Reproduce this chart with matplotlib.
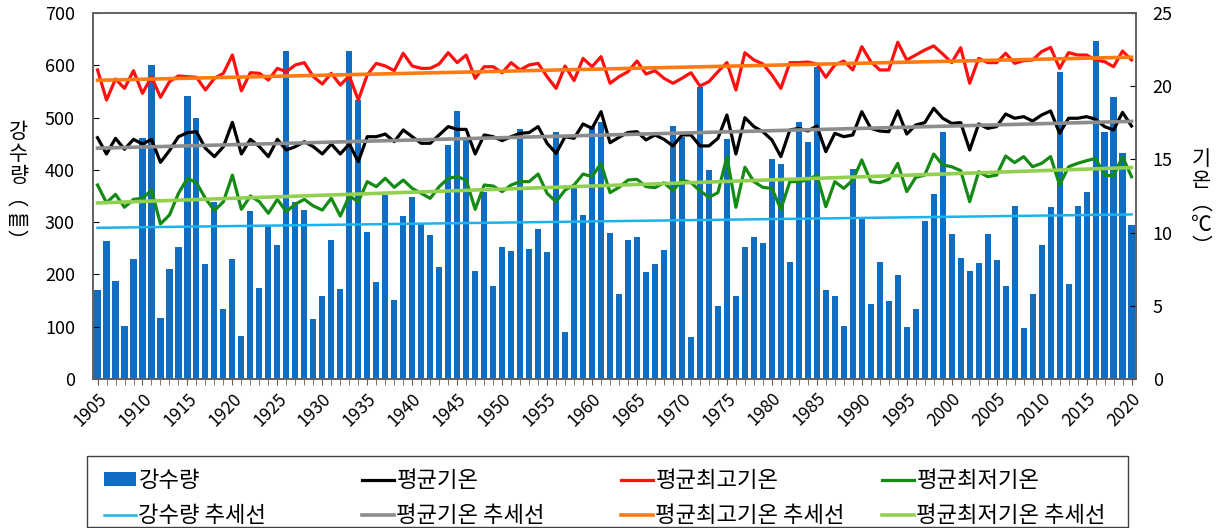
import numpy as np
import matplotlib
matplotlib.use("Agg")
import matplotlib.pyplot as plt
from matplotlib.patches import Rectangle

plt.rcParams['font.family'] = ['Noto Sans CJK KR', 'DejaVu Sans']

years = np.arange(1905, 2021)

# 강수량 (mm)
rain = [170, 264, 187, 101, 229, 461, 600, 117, 211, 252,
        542, 500, 219, 339, 134, 229, 83, 321, 174, 295,
        257, 627, 339, 323, 115, 158, 266, 172, 627, 534,
        281, 186, 351, 152, 312, 349, 296, 275, 215, 447,
        513, 460, 207, 358, 178, 252, 245, 478, 248, 287,
        243, 473, 89, 365, 313, 483, 492, 280, 163, 265,
        272, 205, 219, 246, 484, 463, 80, 559, 400, 140,
        459, 159, 252, 272, 260, 421, 412, 224, 491, 454,
        597, 170, 159, 101, 402, 309, 143, 223, 150, 198,
        99, 134, 303, 353, 472, 277, 232, 207, 221, 277,
        228, 178, 330, 97, 163, 257, 328, 587, 182, 331,
        358, 647, 472, 539, 432, 294]

# 평균기온 (℃)
t_mean = [16.48, 15.37, 16.44, 15.69, 16.37, 16.05, 16.37, 14.80, 15.60, 16.55,
          16.83, 16.89, 15.76, 15.19, 15.87, 17.53, 15.37, 16.37, 15.87, 15.19,
          16.37, 15.64, 15.87, 16.21, 15.87, 15.37, 16.05, 15.37, 16.05, 14.85,
          16.55, 16.55, 16.73, 16.21, 17.01, 16.55, 16.10, 16.10, 16.67, 17.24,
          17.05, 17.05, 15.37, 16.67, 16.55, 16.28, 16.55, 16.78, 16.83, 17.24,
          16.10, 15.41, 16.55, 16.44, 17.42, 17.12, 18.26, 16.14, 16.51, 16.84,
          16.89, 16.33, 16.67, 16.37, 15.92, 16.67, 16.67, 15.92, 15.92, 16.44,
          18.03, 15.37, 17.85, 17.24, 16.89, 16.33, 15.19, 17.01, 17.12, 16.94,
          17.28, 15.53, 16.78, 16.55, 16.67, 18.26, 17.12, 16.94, 16.89, 18.31,
          16.73, 17.35, 17.51, 18.49, 17.81, 17.46, 17.51, 15.64, 17.42, 17.12,
          17.24, 18.10, 17.81, 17.92, 17.62, 18.03, 18.31, 16.78, 17.81, 17.81,
          17.92, 17.74, 17.24, 17.01, 18.21, 17.28]

# 평균최고기온 (℃)
t_max = [21.11, 19.06, 20.49, 19.85, 21.06, 19.51, 20.65, 19.24, 20.31, 20.70,
         20.65, 20.61, 19.74, 20.54, 20.88, 22.13, 19.69, 20.92, 20.88, 20.42,
         21.22, 20.99, 21.45, 21.61, 20.65, 20.15, 20.88, 20.08, 20.70, 19.06,
         20.77, 21.56, 21.38, 21.06, 22.25, 21.38, 21.22, 21.22, 21.52, 22.29,
         21.61, 22.13, 20.54, 21.33, 21.33, 20.92, 21.61, 21.11, 21.45, 21.56,
         20.65, 19.85, 21.38, 20.38, 21.90, 21.33, 22.02, 20.20, 20.65, 20.99,
         21.72, 20.83, 21.06, 20.54, 20.20, 20.54, 20.92, 20.01, 20.31, 20.99,
         21.61, 19.74, 22.29, 21.79, 21.52, 20.77, 19.85, 21.61, 21.61, 21.65,
         21.52, 20.61, 21.45, 21.72, 21.11, 22.70, 21.68, 21.11, 21.11, 23.00,
         21.79, 22.13, 22.47, 22.75, 22.20, 21.61, 22.63, 20.20, 21.90, 21.61,
         21.61, 22.25, 21.56, 21.74, 21.79, 22.36, 22.65, 21.22, 22.29, 22.13,
         22.13, 21.79, 21.68, 21.33, 22.40, 21.79]

# 평균최저기온 (℃)
t_min = [13.25, 12.04, 12.61, 11.73, 12.27, 12.34, 12.91, 10.59, 11.20, 12.68,
         13.71, 13.41, 12.34, 11.50, 12.11, 13.93, 11.59, 12.50, 12.11, 11.32,
         12.27, 11.43, 11.95, 12.27, 11.82, 11.54, 12.34, 11.13, 12.50, 12.11,
         13.48, 13.14, 13.71, 13.09, 13.59, 13.02, 12.68, 12.34, 13.14, 13.71,
         13.82, 13.59, 11.59, 13.25, 13.18, 12.80, 13.25, 13.48, 13.48, 14.00,
         12.68, 12.11, 12.91, 13.25, 14.00, 13.82, 14.73, 12.73, 13.09, 13.59,
         13.64, 13.14, 13.07, 13.41, 12.86, 13.59, 13.41, 12.86, 12.41, 12.73,
         15.19, 11.73, 14.46, 13.48, 13.09, 13.02, 11.59, 13.48, 13.48, 13.59,
         13.93, 11.77, 13.48, 13.02, 13.59, 14.96, 13.48, 13.41, 13.64, 14.73,
         12.80, 13.77, 13.93, 15.37, 14.62, 14.50, 14.23, 12.11, 14.16, 13.82,
         13.93, 15.23, 14.78, 15.19, 14.50, 14.73, 15.19, 13.25, 14.50, 14.73,
         14.91, 15.07, 13.93, 13.87, 15.19, 13.82]


def trend(vals):
    k, b = np.polyfit(years, vals, 1)
    return k * years + b


fig = plt.figure(figsize=(12.21, 5.28), dpi=100)
ax = fig.add_axes([0.0762, 0.2822, 0.8542, 0.6932])
ax2 = ax.twinx()

bars = ax.bar(years, rain, width=0.68, color='#0F6EC4', label='강수량')
rain_tr, = ax.plot(years, trend(rain), color='#1CB2EE', lw=1.8, label='강수량 추세선')

l_mean, = ax2.plot(years, t_mean, color='black', lw=2.3, label='평균기온')
l_max, = ax2.plot(years, t_max, color='#FF1010', lw=2.3, label='평균최고기온')
l_min, = ax2.plot(years, t_min, color='#158A15', lw=2.3, label='평균최저기온')
tr_mean, = ax2.plot(years, trend(t_mean), color='#8C8C8C', lw=2.6, label='평균기온 추세선')
tr_max, = ax2.plot(years, trend(t_max), color='#FF7A10', lw=2.6, label='평균최고기온 추세선')
tr_min, = ax2.plot(years, trend(t_min), color='#92D050', lw=2.6, label='평균최저기온 추세선')

ax.set_xlim(1904.5, 2020.5)
ax.set_ylim(0, 700)
ax2.set_ylim(0, 25)
ax.set_yticks(np.arange(0, 701, 100))
ax2.set_yticks(np.arange(0, 26, 5))
ax.set_xticks(np.arange(1905, 2021, 5))
ax.set_xticks(years, minor=True)
ax.set_xticklabels([str(y) for y in range(1905, 2021, 5)], rotation=45,
                   ha='right', rotation_mode='anchor', fontsize=12.5)
ax.tick_params(axis='x', which='both', length=4, direction='out', color='#7a5a3a')
ax.tick_params(axis='y', direction='in', length=4, labelsize=13, pad=13)
ax2.tick_params(axis='y', direction='in', length=4, labelsize=13, pad=12)

for a in (ax, ax2):
    for s in a.spines.values():
        s.set_color('#606060')
        s.set_linewidth(1.2)

fig.text(0.015, 0.645, '강\n수\n량\n︵\n㎜\n︶', ha='center', va='center',
         fontsize=15, linespacing=1.0)
fig.text(0.984, 0.615, '기\n온\n︵\n℃\n︶', ha='center', va='center',
         fontsize=15, linespacing=1.0)

# legend: four evenly spaced columns inside one frame
columns = [(bars, rain_tr), (l_mean, tr_mean), (l_max, tr_max), (l_min, tr_min)]
col_x = [104, 362, 621, 882]
for hs, x in zip(columns, col_x):
    fig.legend(handles=list(hs), labels=[h.get_label() for h in hs],
               loc='upper left', bbox_to_anchor=(x / 1221, 1 - 469 / 528),
               fontsize=16, frameon=False, handlelength=1.45,
               handletextpad=0.1, borderpad=0, borderaxespad=0,
               labelspacing=0.55, handleheight=0.6)
fig.add_artist(Rectangle((87 / 1221, 1 / 528), 1041 / 1221, 71 / 528,
                         transform=fig.transFigure, fill=False,
                         edgecolor='#404040', lw=1.0))

fig.savefig('out.png', dpi=100)
